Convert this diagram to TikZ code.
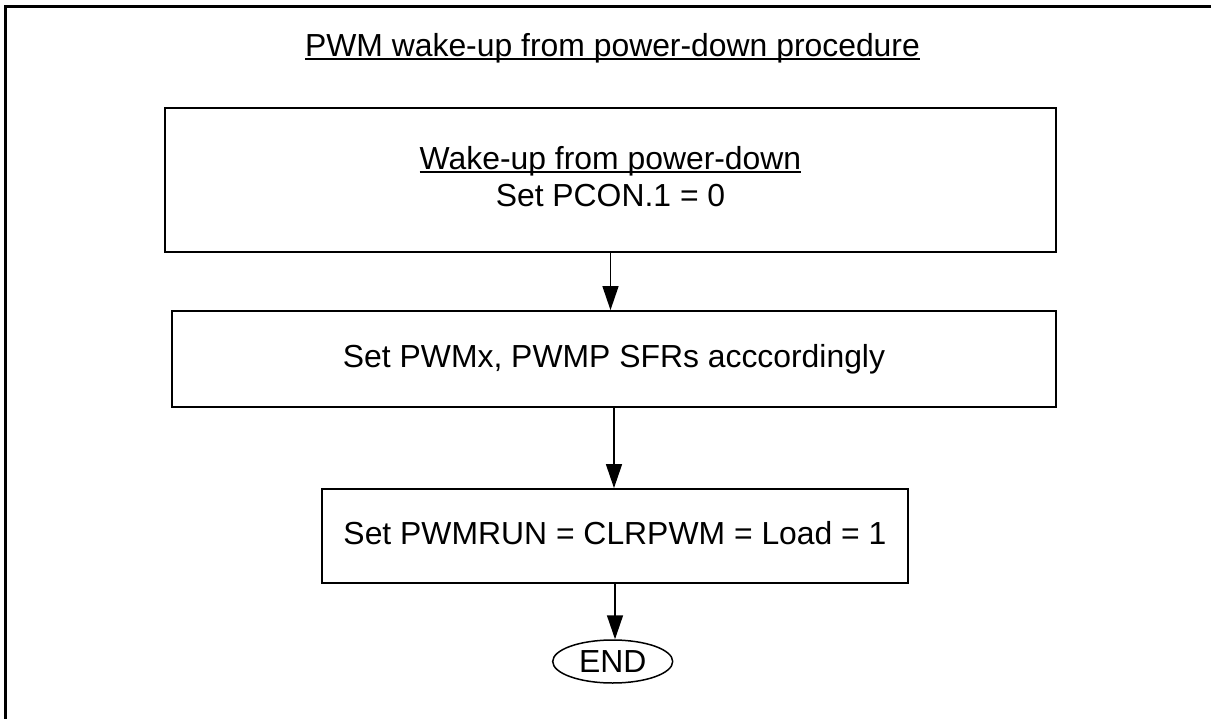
\documentclass[tikz,border=0pt]{standalone}
\usepackage{fontspec}
\setmainfont{Liberation Sans}
\usetikzlibrary{arrows.meta, shapes.geometric, positioning}
\newsavebox\ulsave
\newcommand{\ulbox}[1]{\sbox\ulsave{#1}\rlap{\rule[-3.5bp]{\wd\ulsave}{2bp}}\usebox\ulsave}

\begin{document}
\begin{tikzpicture}[x=1bp, y=-1bp,
    font=\fontsize{32}{37}\selectfont,
    stepbox/.style={draw, rectangle, line width=1.8bp, inner sep=0pt, align=center},
    onerow/.style={text height=23bp, text depth=7bp},
    endbox/.style={draw, ellipse, line width=1.5bp, inner sep=0pt,
        minimum width=120bp, minimum height=43bp},
    flow/.style={line width=1.5bp, -{Triangle[length=24bp, width=16bp]}}]
  \useasboundingbox (0,0) rectangle (1211,719);
  % frame
  \draw[line width=3bp] (5,719) |- (1211,7);
  % title
  \node[anchor=base] (title) at (612.5,57) {\ulbox{PWM wake-up from power-down procedure}};
  % steps
  \node[stepbox, minimum width=891bp, minimum height=144bp,
    text height=60bp, text depth=7bp] (wake) at (610.5,180)
    {\ulbox{Wake-up from power-down}\\ Set PCON.1 = 0};
  \node[stepbox, onerow, minimum width=884bp, minimum height=96bp] (sfr) at (614,359)
    {Set PWMx, PWMP SFRs acccordingly};
  \node[stepbox, onerow, minimum width=586bp, minimum height=94bp] (run) at (615,536)
    {Set PWMRUN = CLRPWM = Load = 1};
  \node[endbox] (end) at (612.7,661.5) {END};
  % connectors
  \draw[flow] (wake.south) -- (wake.south |- sfr.north);
  \draw[flow] (sfr.south) -- (sfr.south |- run.north);
  \draw[flow] (run.south) -- (run.south |- end.north);
\end{tikzpicture}
\end{document}
